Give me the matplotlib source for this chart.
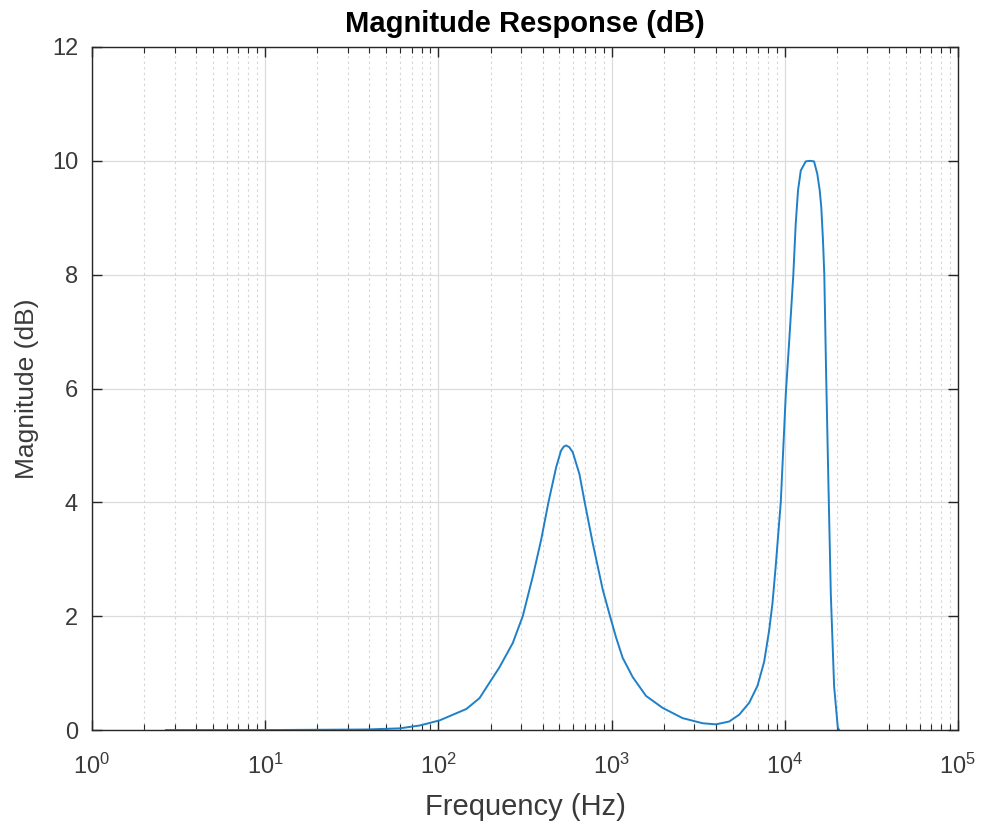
import matplotlib
matplotlib.use("Agg")
import matplotlib.pyplot as plt
from matplotlib.ticker import LogLocator, FixedLocator

plt.rcParams['font.family'] = ['Liberation Sans', 'DejaVu Sans']
plt.rcParams['mathtext.fontset'] = 'custom'
plt.rcParams['mathtext.rm'] = 'Liberation Sans'
plt.rcParams['mathtext.default'] = 'regular'

# values (frequency in Hz, magnitude in dB)
freq_hz = [2.67, 10, 20, 38.4, 59.7, 78, 101.6, 145, 172.7, 225, 269, 307,
           351, 392, 432, 479, 511, 530, 547, 570, 597, 652, 700, 779, 889,
           980, 1061, 1159, 1325, 1581, 1972, 2570, 3352, 4000, 4777, 5459,
           6237, 6966, 7606, 8128, 8497, 8880, 9490, 10140, 10600, 11210,
           11570, 11930, 12380, 13220, 13990, 14760, 15420, 15920, 16260,
           16630, 16920, 17330, 17870, 18450, 19280, 20240, 20590]
mag_db = [0.0, 0.0, 0.005, 0.01, 0.03, 0.08, 0.17, 0.37, 0.56, 1.10, 1.53, 2.0,
          2.70, 3.34, 4.0, 4.62, 4.91, 4.98, 5.0, 4.97, 4.88, 4.50, 4.0, 3.28, 2.47,
          2.0, 1.63, 1.27, 0.93, 0.60, 0.39, 0.21, 0.12, 0.10, 0.15, 0.27,
          0.48, 0.78, 1.20, 1.75, 2.23, 2.9, 4.01, 5.9, 6.81, 8.0,
          8.89, 9.48, 9.83, 9.99, 10.0, 9.99, 9.77, 9.48, 9.18,
          8.60, 8.0, 6.29, 4.34, 2.39, 0.77, 0.05, 0.0]

x_lim = (1, 1e5)
y_ticks = [0, 2, 4, 6, 8, 10, 12]

fig = plt.figure(figsize=(9.84, 8.24), dpi=100)
ax = fig.add_axes([0.0935, 0.114, 0.880, 0.829])

ax.plot(freq_hz, mag_db, color='#1f80c8', linewidth=1.4)

ax.set_xscale('log')
ax.set_xlim(*x_lim)
ax.set_ylim(0, 12)
ax.yaxis.set_major_locator(FixedLocator(y_ticks))
ax.xaxis.set_major_locator(LogLocator(base=10, numticks=10))
ax.xaxis.set_minor_locator(LogLocator(base=10, subs=range(2, 10), numticks=10))

ax.grid(which='major', color='#dcdcdc', linewidth=0.9)
ax.grid(which='minor', axis='x', color='#d4d4d4', linewidth=0.8, linestyle=(0, (2, 3)))
ax.set_axisbelow(True)

dark = '#262626'
for s in ax.spines.values():
    s.set_color(dark)
    s.set_linewidth(1.0)
ax.tick_params(which='both', direction='in', top=True, right=True, colors=dark,
               labelcolor='#3a3a3a', labelsize=17)
ax.tick_params(which='major', length=7, width=1.0)
ax.tick_params(which='minor', length=4, width=0.8)
ax.tick_params(axis='x', pad=17)
ax.tick_params(axis='y', pad=10)

ax.set_xlabel('Frequency (Hz)', fontsize=21, color='#3a3a3a', labelpad=10)
ax.set_ylabel('Magnitude (dB)', fontsize=19, color='#3a3a3a', labelpad=9)
ax.set_title('Magnitude Response (dB)', fontsize=21, fontweight='bold', color='black', pad=11)

fig.savefig('out.png', dpi=100)
